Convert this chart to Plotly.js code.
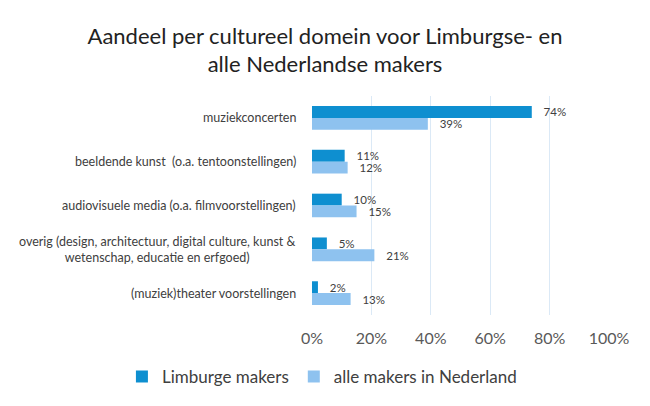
<!DOCTYPE html>
<html><head><meta charset="utf-8">
<script src="https://cdn.plot.ly/plotly-3.0.1.min.js"></script>
<style>body{margin:0;background:#fff}#c{width:650px;height:406px}</style>
</head><body><div id="c"></div>
<script>
const categories = [
  "muziekconcerten",
  "beeldende kunst  (o.a. tentoonstellingen)",
  "audiovisuele media (o.a. filmvoorstellingen)",
  "overig (design, architectuur, digital culture, kunst &<br>wetenschap, educatie en erfgoed)",
  "(muziek)theater voorstellingen"
];
const limburg = [74, 11, 10, 5, 2];
const nederland = [39, 12, 15, 21, 13];
const seriesNames = ["Limburge makers", "alle makers in Nederland"];
const xTicks = [0, 20, 40, 60, 80, 100];

const font = "Lato, 'Open Sans', sans-serif";
const traces = [
  {type:'bar', orientation:'h', name:seriesNames[0], y:categories, x:limburg,
   marker:{color:'#0e8fd0'}, text:limburg.map(v=>v+'%'), textposition:'outside', constraintext:'none',
   texttemplate:'   %{text}', textfont:{family:font,size:11.5,color:'#404040'}, cliponaxis:false, hoverinfo:'none'},
  {type:'bar', orientation:'h', name:seriesNames[1], y:categories, x:nederland,
   marker:{color:'#8ec2ef'}, text:nederland.map(v=>v+'%'), textposition:'outside', constraintext:'none',
   texttemplate:'   %{text}', textfont:{family:font,size:11.5,color:'#404040'}, cliponaxis:false, hoverinfo:'none'}
];
const annotations = categories.map(c => ({
  xref:'paper', yref:'y', x:0, y:c, xanchor:'right', xshift:-14, align:'center',
  text:c, showarrow:false, font:{family:font, size:12.5, color:'#404040'}
}));
const layout = {
  width:650, height:406,
  margin:{l:312, r:41, t:96, b:90, pad:0},
  paper_bgcolor:'#fff', plot_bgcolor:'#fff',
  title:{text:'Aandeel per cultureel domein voor Limburgse- en<br>alle Nederlandse makers',
    font:{family:font, size:22, color:'#222'}, x:0.5, xanchor:'center', y:0.892, yanchor:'middle'},
  barmode:'group', bargap:0.46, bargroupgap:0,
  xaxis:{range:[0,100], tickvals:xTicks, ticktext:xTicks.map(v=>v+'%'), showgrid:true,
    gridcolor:'#dbe9f6', gridwidth:1, zeroline:false, showline:false, ticks:'',
    tickfont:{family:font, size:16, color:'#595959'}, ticklabelstandoff:12, fixedrange:true},
  yaxis:{type:'category', autorange:'reversed', showticklabels:false, showgrid:false,
    zeroline:false, showline:false, ticks:'', fixedrange:true},
  showlegend:true,
  legend:{orientation:'h', xref:'paper', x:-0.64, xanchor:'left', yref:'paper', y:-0.277, yanchor:'middle',
    font:{family:font, size:17, color:'#404040'}, traceorder:'normal', itemwidth:30},
  annotations: annotations
};
Plotly.newPlot('c', traces, layout, {displayModeBar:false, staticPlot:true});
</script></body></html>
